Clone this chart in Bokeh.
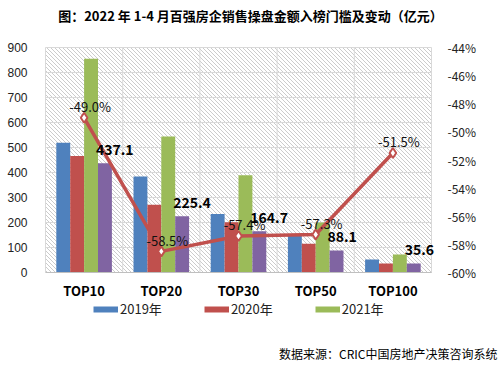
import numpy as np
from bokeh.plotting import figure
from bokeh.models import (Range1d, LinearAxis, FixedTicker, ColumnDataSource, Legend, LegendItem,
                          LabelSet, Label, PrintfTickFormatter)
from bokeh.transform import dodge
from bokeh.core.properties import value
from bokeh.embed import file_html
from bokeh.resources import INLINE

categories = ["TOP10", "TOP20", "TOP30", "TOP50", "TOP100"]
v2019 = [519, 384, 234, 146, 52]
v2020 = [466, 271, 201, 115, 36]
v2021 = [855, 544, 389, 200, 72]
v2022 = [437.1, 225.4, 164.7, 88.1, 35.6]
change = [-49.0, -58.5, -57.4, -57.3, -51.5]
left_ticks = [0, 100, 200, 300, 400, 500, 600, 700, 800, 900]
right_ticks = [-60, -58, -56, -54, -52, -50, -48, -46, -44]
legend_labels = ["2019年", "2020年", "2021年"]
title_text = "图：2022 年 1-4 月百强房企销售操盘金额入榜门槛及变动（亿元）"
source_text = "数据来源：CRIC中国房地产决策咨询系统"

CJK = "Noto Sans CJK SC"
W, H = 502, 370                 # canvas
FL, FR, FT, FB = 45, 431, 47, 272  # plot area in canvas pixels
n = len(categories)
ymax, pmin, pmax = left_ticks[-1], right_ticks[0], right_ticks[-1]
kx = (FR - FL) / n              # px per category
ky = (FB - FT) / ymax           # px per unit (left)
kp = (FB - FT) / (pmax - pmin)  # px per % (right)

xs = [i + 0.5 for i in range(n)]
src = ColumnDataSource(dict(
    x=xs, v2019=v2019, v2020=v2020, v2021=v2021, v2022=v2022, change=change,
    v2022_lbl=["%.1f" % v for v in v2022],
    change_lbl=["%.1f%%" % v for v in change],
))

p = figure(width=W, height=H, output_backend="svg", toolbar_location=None,
           x_range=Range1d(-FL / kx, n + (W - FR) / kx),
           y_range=Range1d(-(H - FB) / ky, FB / ky),
           x_axis_location=None, y_axis_location=None,
           min_border=0, min_border_left=0, min_border_right=0, min_border_top=0, min_border_bottom=0,
           title=None, background_fill_color="white", border_fill_color="white")
p.extra_y_ranges = {"pct": Range1d(pmin - (H - FB) / kp, pmin + FB / kp)}
p.outline_line_color = None
p.grid.visible = False

# hatched plot-area background (diagonal "\" lines, 4px apart)
PW, PH = FR - FL, FB - FT
hx0, hy0, hx1, hy1 = [], [], [], []
for c in range(2, PW + PH, 4):
    u0, u1 = max(0, c - PH), min(PW, c)
    hx0.append(u0 / kx); hy0.append((c - u0) / ky)
    hx1.append(u1 / kx); hy1.append((c - u1) / ky)
p.segment(x0=hx0, y0=hy0, x1=hx1, y1=hy1, line_color="#c6c6c6", line_width=0.9)

# grid lines
p.segment(x0=[0] * len(left_ticks), x1=[n] * len(left_ticks), y0=left_ticks, y1=left_ticks,
          line_color="#d9d9d9", line_width=1)
p.segment(x0=list(range(1, n + 1)), x1=list(range(1, n + 1)), y0=[0] * n, y1=[ymax] * n,
          line_color="#d9d9d9", line_width=1)

# axes (placed at the plot-area edges)
xax = LinearAxis(fixed_location=0, ticker=FixedTicker(ticks=xs), bounds=(0, n))
xax.major_label_overrides = {x: c for x, c in zip(xs, categories)}
xax.major_label_text_font = CJK
xax.major_label_text_font_style = "bold"
xax.major_label_text_font_size = "13px"
xax.major_label_text_color = "#000000"
xax.major_tick_line_color = None
xax.minor_tick_line_color = None
xax.axis_line_color = "#bfbfbf"
xax.major_label_standoff = 2
p.add_layout(xax, "below")

yax = LinearAxis(fixed_location=0, ticker=FixedTicker(ticks=left_ticks), bounds=(0, ymax))
yax.major_label_text_font = "Liberation Sans"
yax.major_label_text_font_size = "12px"
yax.major_label_text_color = "#222222"
yax.major_tick_line_color = None
yax.minor_tick_line_color = None
yax.axis_line_color = "#d9d9d9"
yax.major_label_standoff = 12
p.add_layout(yax, "left")

ax2 = LinearAxis(y_range_name="pct", fixed_location=n, ticker=FixedTicker(ticks=right_ticks),
                 bounds=(pmin, pmax), formatter=PrintfTickFormatter(format="%d%%"))
ax2.major_label_text_font = CJK
ax2.major_label_text_font_size = "12px"
ax2.major_label_text_color = "#222222"
ax2.major_tick_line_color = None
ax2.minor_tick_line_color = None
ax2.axis_line_color = None
ax2.major_label_standoff = 10
p.add_layout(ax2, "right")

# bars
w = 0.18
colors = ["#4f81bd", "#c0504d", "#9bbb59", "#8064a2"]
cols = ["v2019", "v2020", "v2021", "v2022"]
offs = [-0.27, -0.09, 0.09, 0.27]
for c, col, o in zip(cols, colors, offs):
    p.vbar(x=dodge("x", o, range=p.x_range), top=c, width=w, bottom=0,
           source=src, fill_color=col, line_color=None)

# legend swatches: one-point lines (draw nothing in the plot, only in the legend)
sw = [p.line(x=xs[:1], y=[vals[0]], line_color=col, line_width=6)
      for col, vals in zip(colors[:3], [v2019, v2020, v2021])]

# change line
p.line(x="x", y="change", source=src, y_range_name="pct", line_color="#c0504d", line_width=3.5)
p.scatter(x="x", y="change", source=src, y_range_name="pct", marker="diamond", size=10,
          fill_color="white", line_color="#c0504d", line_width=2)

# data labels
p.add_layout(LabelSet(x="x", y="change", text="change_lbl", source=src, y_range_name="pct",
                      text_align="center", text_baseline="middle", x_offset=6, y_offset=11,
                      text_font=value(CJK), text_font_size="13px", text_color="#111111"))
p.add_layout(LabelSet(x=dodge("x", 0.27, range=p.x_range), y="v2022", text="v2022_lbl", source=src,
                      text_align="left", text_baseline="middle", x_offset=-9, y_offset=14,
                      text_font=value(CJK), text_font_size="14px", text_font_style="bold",
                      text_color="#000000"))

legend = Legend(items=[LegendItem(label=lab, renderers=[r]) for lab, r in zip(legend_labels, sw)],
                orientation="horizontal", location=(93, 52),
                glyph_width=25, glyph_height=16, label_height=16, label_standoff=2, spacing=42,
                padding=0, margin=0, border_line_color=None, background_fill_alpha=0,
                label_text_font=CJK, label_text_font_size="13px", label_text_color="#222222")
p.add_layout(legend, "center")

# title and source note
p.add_layout(Label(x=(250 - FL) / kx, y=(FB - 15) / ky, text=title_text,
                   text_align="center", text_baseline="middle", text_font=CJK,
                   text_font_size="13px", text_font_style="bold", text_color="#000000"))
p.add_layout(Label(x=(497 - FL) / kx, y=-(353 - FB) / ky, text=source_text,
                   text_align="right", text_baseline="middle", text_font=CJK,
                   text_font_size="12px", text_color="#000000"))

open("out.html", "w").write(file_html(p, INLINE))
